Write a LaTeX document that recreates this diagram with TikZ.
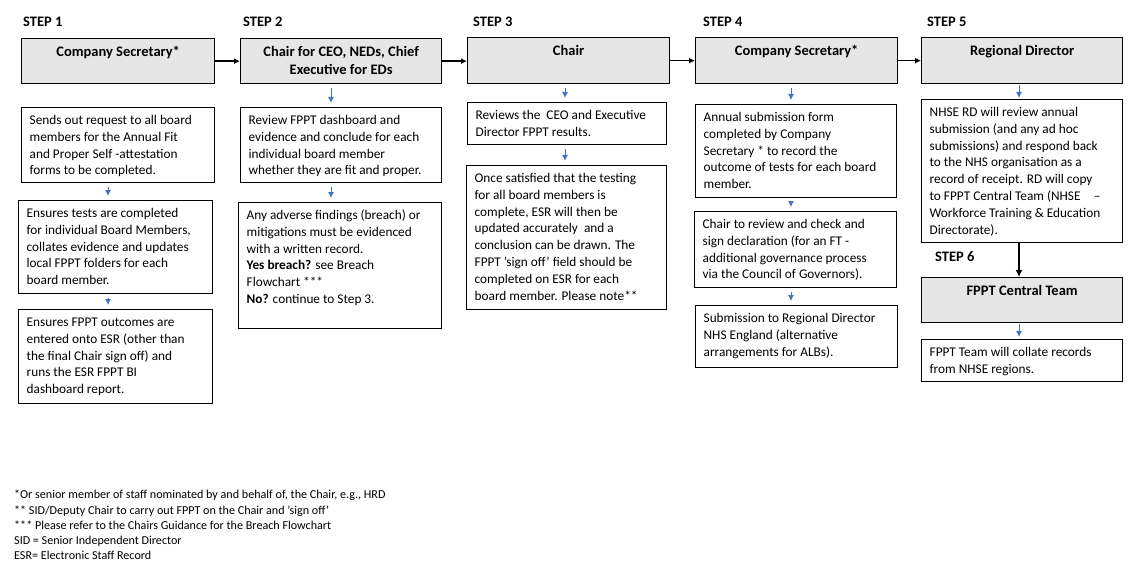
\documentclass[tikz,border=0pt]{standalone}
\usepackage{fontspec}
\setmainfont{Carlito}
\usetikzlibrary{arrows.meta}
\definecolor{hdrfill}{HTML}{E7E6E6}
\definecolor{arrblue}{HTML}{4472C4}
\newcommand\bodytext[3]{\parbox[c][\dimexpr#2pt-10pt\relax][t]{\dimexpr#1pt-13pt\relax}{\raggedright\leftskip=1.5pt\strut #3}}
\newcommand\headtext[3]{\parbox[c][\dimexpr#2pt-12pt\relax][t]{\dimexpr#1pt-13pt\relax}{\centering\bfseries\strut #3}}
\tikzset{
  basebox/.style={draw=black, line width=1.3pt, inner xsep=6.5pt, inner ysep=5pt, anchor=north west},
  bodybox/.style={basebox, fill=white, font=\fontsize{13.3}{16.8}\selectfont},
  headbox/.style={basebox, fill=hdrfill, inner ysep=6pt, font=\fontsize{14.5}{17.5}\selectfont},
  steplbl/.style={anchor=west, inner sep=0pt, font=\fontsize{14.5}{16}\selectfont\bfseries},
  notes/.style={anchor=north west, inner sep=0pt, align=left, font=\fontsize{12.1}{15.3}\selectfont},
  harrow/.style={draw=black, line width=1.3pt, -{Latex[length=6pt,width=6pt]}},
  varrow/.style={draw=black, line width=1.3pt, -{Latex[length=7pt,width=7pt]}},
  barrow/.style={draw=arrblue, line width=0.9pt, -{Latex[length=6pt,width=6pt]}, shorten <=4pt, shorten >=4pt},
}
\begin{document}
\begin{tikzpicture}[x=1pt,y=-1pt]
\useasboundingbox (0,0) rectangle (1138,575);

% step labels
\node[steplbl] (s1) at (23,22) {STEP 1};
\node[steplbl] (s2) at (243,22) {STEP 2};
\node[steplbl] (s3) at (473,22) {STEP 3};
\node[steplbl] (s4) at (703,22) {STEP 4};
\node[steplbl] (s5) at (927,22) {STEP 5};
\node[steplbl] (s6) at (935,257) {STEP 6};

% header boxes
\node[headbox] (h1) at (21,38) {\headtext{193}{45}{Company Secretary*}};
\node[headbox] (h2) at (240,38) {\headtext{201}{45}{Chair for CEO, NEDs, Chief\\Executive for EDs}};
\node[headbox] (h3) at (467,37) {\headtext{202}{46}{Chair}};
\node[headbox] (h4) at (695,37) {\headtext{202}{46}{Company Secretary*}};
\node[headbox] (h5) at (921,37) {\headtext{201}{46}{Regional Director}};
\node[headbox] (h6) at (921,277) {\headtext{201}{45}{FPPT Central Team}};

% body boxes
\node[bodybox] (b11) at (21,107) {\bodytext{193}{75}{Sends out request to all board\\members for the Annual Fit\\and Proper Self -attestation\\forms to be completed.}};
\node[bodybox] (b12) at (18,200) {\bodytext{194}{93}{Ensures tests are completed\\for individual Board Members,\\collates evidence and updates\\local FPPT folders for each\\board member.}};
\node[bodybox] (b13) at (18,309) {\bodytext{194}{94}{Ensures FPPT outcomes are\\entered onto ESR (other than\\the final Chair sign off) and\\runs the ESR FPPT BI\\dashboard report.}};

\node[bodybox] (b21) at (240,107) {\bodytext{201}{75}{Review FPPT dashboard and\\evidence and conclude for each\\individual board member\\whether they are fit and proper.}};
\node[bodybox] (b22) at (238,202) {\bodytext{203}{126}{Any adverse findings (breach) or\\mitigations must be evidenced\\with a written record.\\\textbf{Yes breach?} see Breach\\Flowchart ***\\\textbf{No?} continue to Step 3.}};

\node[bodybox] (b31) at (467,102) {\bodytext{199}{42}{Reviews the\ \ CEO and Executive\\Director FPPT results.}};
\node[bodybox] (b32) at (466,165) {\bodytext{200}{144}{Once satisfied that the testing\\for all board members is\\complete, ESR will then be\\updated accurately\ \ and a\\conclusion can be drawn. The\\FPPT 'sign off' field should be\\completed on ESR for each\\board member. Please note**}};

\node[bodybox] (b41) at (695,104) {\bodytext{201}{93}{Annual submission form\\completed by Company\\Secretary * to record the\\outcome of tests for each board\\member.}};
\node[bodybox] (b42) at (694,211) {\bodytext{202}{76}{Chair to review and check and\\sign declaration (for an FT -\\additional governance process\\via the Council of Governors).}};
\node[bodybox] (b43) at (695,305) {\bodytext{202}{62}{Submission to Regional Director\\NHS England (alternative\\arrangements for ALBs).}};

\node[bodybox] (b51) at (921,99) {\bodytext{201}{143}{NHSE RD will review annual\\submission (and any ad hoc\\submissions) and respond back\\to the NHS organisation as a\\record of receipt. RD will copy\\to FPPT Central Team (NHSE\quad –\\Workforce Training \& Education\\Directorate).}};
\node[bodybox] (b61) at (921,339) {\bodytext{201}{42}{FPPT Team will collate records\\from NHSE regions.}};

% column coordinates for vertical arrows
\coordinate (c1) at (108,0);
\coordinate (c2) at (331,0);
\coordinate (c3) at (565,0);
\coordinate (c4) at (791,0);
\coordinate (c5) at (1019,0);

% horizontal arrows between headers
\draw[harrow] (h1.east) -- (h2.west |- h1.east);
\draw[harrow] (h2.east) -- (h3.west |- h2.east);
\draw[harrow] (h3.east) -- (h4.west |- h3.east);
\draw[harrow] (h4.east) -- (h5.west |- h4.east);

% blue arrows
\draw[barrow] (b11.south -| c1) -- (b12.north -| c1);
\draw[barrow] (b12.south -| c1) -- (b13.north -| c1);
\draw[barrow] (h2.south -| c2) -- (b21.north -| c2);
\draw[barrow] (b21.south -| c2) -- (b22.north -| c2);
\draw[barrow] (h3.south -| c3) -- (b31.north -| c3);
\draw[barrow] (b31.south -| c3) -- (b32.north -| c3);
\draw[barrow] (h4.south -| c4) -- (b41.north -| c4);
\draw[barrow] (b41.south -| c4) -- (b42.north -| c4);
\draw[barrow] (b42.south -| c4) -- (b43.north -| c4);
\draw[barrow, shorten <=1pt, shorten >=1pt] (h5.south -| c5) -- (b51.north -| c5);
\draw[barrow, shorten <=1pt, shorten >=2pt] (h6.south -| c5) -- (b61.north -| c5);

% black arrow step 5 -> step 6
\draw[varrow] (b51.south -| c5) -- (h6.north -| c5);

% footnotes
\node[notes] (fn) at (14,490) {*Or senior member of staff nominated by and behalf of, the Chair, e.g., HRD\\
** SID/Deputy Chair to carry out FPPT on the Chair and 'sign off’\\
*** Please refer to the Chairs Guidance for the Breach Flowchart\\
SID = Senior Independent Director\\
ESR= Electronic Staff Record};
\end{tikzpicture}
\end{document}
